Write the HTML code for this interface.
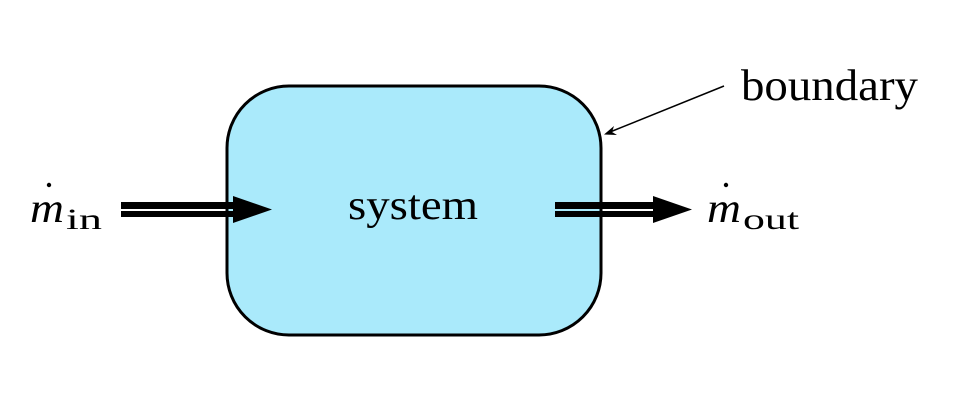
<!DOCTYPE html>
<html><head><style>body{margin:0;background:#fff}svg{display:block}</style></head><body>
<svg width="954" height="408" viewBox="0 0 954 408" xmlns="http://www.w3.org/2000/svg" font-family="Liberation Serif, serif">
<rect x="227" y="86" width="374" height="249" rx="62" ry="62" fill="#aaeafb" stroke="#000" stroke-width="3"/>
<text x="348" y="219" font-size="42" textLength="130" lengthAdjust="spacingAndGlyphs">system</text>
<g fill="#000">
<rect x="121" y="202" width="118" height="7"/>
<rect x="121" y="211" width="118" height="6"/>
<polygon points="233,196 272,209.5 233,223"/>
<rect x="555" y="202" width="105" height="7"/>
<rect x="555" y="211" width="105" height="6"/>
<polygon points="653,196 692,209.5 653,223"/>
</g>
<line x1="724" y1="86" x2="610" y2="132" stroke="#000" stroke-width="1.5"/>
<polygon points="604,134.5 614,126 612,132 617,135" fill="#000"/>
<text x="741" y="100" font-size="44" textLength="177" lengthAdjust="spacingAndGlyphs">boundary</text>
<text x="30" y="222" font-size="42" font-style="italic" textLength="34" lengthAdjust="spacingAndGlyphs">m</text>
<circle cx="49" cy="185" r="2.2" fill="#000"/>
<text x="66" y="229" font-size="30" textLength="36" lengthAdjust="spacingAndGlyphs">in</text>
<text x="707" y="222" font-size="42" font-style="italic" textLength="34" lengthAdjust="spacingAndGlyphs">m</text>
<circle cx="726" cy="185" r="2.2" fill="#000"/>
<text x="743" y="229" font-size="30" textLength="56" lengthAdjust="spacingAndGlyphs">out</text>
</svg>
</body></html>
